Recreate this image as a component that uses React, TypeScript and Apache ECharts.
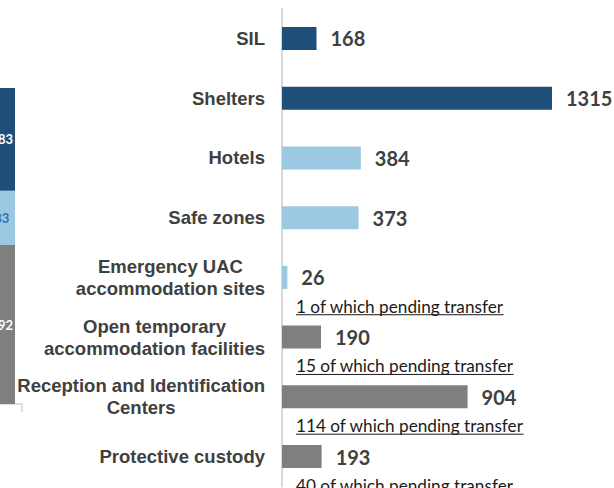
import React, { useEffect, useRef } from "react";
import * as echarts from "echarts";

// Right chart: accommodation types
const categories = [
  "SIL",
  "Shelters",
  "Hotels",
  "Safe zones",
  "Emergency UAC\naccommodation sites",
  "Open temporary\naccommodation facilities",
  "Reception and Identification\nCenters",
  "Protective custody",
];
const values = [168, 1315, 384, 373, 26, 190, 904, 193];
const groups = ["dark", "dark", "light", "light", "light", "gray", "gray", "gray"];

// "of which pending transfer" notes
const pendingCategories = [
  "Emergency UAC\naccommodation sites",
  "Open temporary\naccommodation facilities",
  "Reception and Identification\nCenters",
  "Protective custody",
];
const pendingValues = [1, 15, 114, 40];

// Left (cropped) stacked summary bar
const summaryCategories = ["Total"];
const summaryDark = [1483];
const summaryLight = [783];
const summaryGray = [2292];

const COLORS: Record<string, string> = {
  dark: "#1F4E79",
  light: "#9DC8E2",
  gray: "#7F7F7F",
};

const NOTE_FONT_SIZE = 17.2;
const NOTE_FONT = `${NOTE_FONT_SIZE}px Lato`;

function measure(text: string): number {
  const c = document.createElement("canvas");
  const ctx = c.getContext("2d");
  if (!ctx) return text.length * 7.5;
  ctx.font = NOTE_FONT;
  return ctx.measureText(text).width;
}

export default function App() {
  const ref = useRef<HTMLDivElement>(null);

  useEffect(() => {
    if (!ref.current) return;
    const chart = echarts.init(ref.current, undefined, { renderer: "svg" });

    const pendingData = pendingCategories.map((c, i) => [
      0,
      categories.indexOf(c),
      pendingValues[i],
    ]);
    const summaryTotal = summaryDark[0] + summaryLight[0] + summaryGray[0];

    const summaryLabel = (color: string) => ({
      show: true,
      position: "inside",
      fontFamily: "Lato",
      fontWeight: "bold",
      fontSize: 13,
      color,
    });

    chart.setOption({
      animation: false,
      grid: [
        { left: 282, top: 8.6, width: 328.5, height: 477.8, containLabel: false, outerBoundsMode: "none" },
        { left: -26, top: 88, width: 48, height: 316, containLabel: false, outerBoundsMode: "none" },
      ],
      xAxis: [
        { type: "value", gridIndex: 0, min: 0, max: 1600, show: false },
        {
          type: "category",
          gridIndex: 1,
          data: summaryCategories,
          axisLine: { show: true, lineStyle: { color: "#d4d4d4", width: 1.5 } },
          axisTick: { show: true, length: 8, lineStyle: { color: "#d4d4d4", width: 1.5 } },
          axisLabel: { show: false },
        },
      ],
      yAxis: [
        {
          type: "category",
          gridIndex: 0,
          data: categories,
          inverse: true,
          axisLine: { show: true, lineStyle: { color: "#d9d9d9", width: 2 } },
          axisTick: { show: false },
          splitLine: { show: false },
          axisLabel: {
            margin: 17,
            formatter: (v: string) =>
              v
                .split("\n")
                .map((l) => `{c|${l}}`)
                .join("\n"),
            rich: {
              c: {
                align: "center",
                fontFamily: "Liberation Sans",
                fontWeight: "bold",
                fontSize: 18.5,
                lineHeight: 22,
                color: "#404040",
              },
            },
          },
        },
        {
          type: "value",
          gridIndex: 1,
          min: 0,
          max: summaryTotal,
          show: false,
        },
      ],
      series: [
        {
          type: "bar",
          xAxisIndex: 0,
          yAxisIndex: 0,
          barWidth: 23,
          data: values.map((v, i) => ({
            value: v,
            itemStyle: { color: COLORS[groups[i]] },
          })),
          label: {
            show: true,
            position: "right",
            distance: 14,
            fontFamily: "Lato",
            fontWeight: "bold",
            fontSize: 20,
            color: "#404040",
          },
        },
        {
          type: "custom",
          xAxisIndex: 0,
          yAxisIndex: 0,
          coordinateSystem: "cartesian2d",
          clip: false,
          silent: true,
          encode: { x: 0, y: 1 },
          data: pendingData,
          renderItem: (_params: any, api: any) => {
            const idx = api.value(1);
            const pt = api.coord([0, idx]);
            const band = api.size([0, 1])[1];
            const text = `${api.value(2)} of which pending transfer`;
            const x = pt[0] + 14;
            const y = pt[1] + band / 2 - 1;
            const w = measure(text);
            return {
              type: "group",
              children: [
                {
                  type: "text",
                  x,
                  y,
                  style: {
                    text,
                    fill: "#1a1a1a",
                    fontFamily: "Lato",
                    fontSize: NOTE_FONT_SIZE,
                    align: "left",
                    verticalAlign: "middle",
                  },
                },
                {
                  type: "line",
                  shape: { x1: x, y1: y + 8.5, x2: x + w, y2: y + 8.5 },
                  style: { stroke: "#1a1a1a", lineWidth: 1 },
                },
              ],
            };
          },
        },
        {
          type: "bar",
          xAxisIndex: 1,
          yAxisIndex: 1,
          stack: "total",
          barWidth: 34,
          clip: false,
          data: summaryGray,
          itemStyle: { color: COLORS.gray },
          label: summaryLabel("#ffffff"),
        },
        {
          type: "bar",
          xAxisIndex: 1,
          yAxisIndex: 1,
          stack: "total",
          barWidth: 34,
          clip: false,
          data: summaryLight,
          itemStyle: { color: COLORS.light },
          label: summaryLabel("#2E75B6"),
        },
        {
          type: "bar",
          xAxisIndex: 1,
          yAxisIndex: 1,
          stack: "total",
          barWidth: 34,
          clip: false,
          data: summaryDark,
          itemStyle: { color: COLORS.dark },
          label: summaryLabel("#ffffff"),
        },
      ],
    });

    return () => chart.dispose();
  }, []);

  return (
    <div
      ref={ref}
      style={{ position: "absolute", left: 0, top: 0, width: 614, height: 488, background: "#fff" }}
    />
  );
}
